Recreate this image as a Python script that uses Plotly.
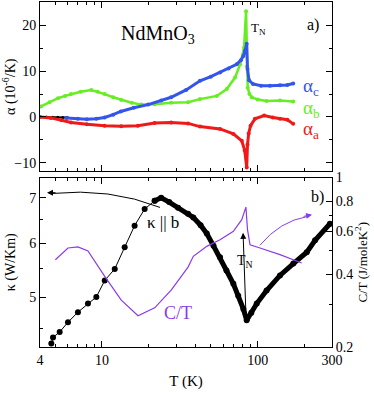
import numpy as np
import plotly.graph_objects as go

# --- top panel: thermal expansion alpha (1e-6/K) ---
black_T = [4.0, 4.4, 4.8, 5.2, 5.6, 6.0]
black_a = [0.0, 0.0, -0.05, -0.05, -0.1, -0.1]

ac_T = [5.9, 7.0, 8.0, 9.2, 10.4, 11.8, 13.2, 16.0, 19.8, 24.0, 27.8, 34.7, 42.6, 50.0,
        57.3, 65.0, 73.3, 78.0, 80.9, 83.0, 85.0, 86.0, 88.0, 93.3, 105, 120, 139, 155, 169]
ac = [-0.2, -0.4, -0.5, -0.4, -0.1, 0.5, 1.2, 2.0, 2.7, 3.6, 4.3, 5.9, 7.9, 8.8,
      9.7, 10.6, 11.5, 12.4, 13.3, 14.5, 16.0, 10.5, 8.0, 7.2, 6.8, 6.8, 6.9, 7.0, 7.3]

ab_T = [4.06, 4.6, 5.22, 5.8, 6.33, 7.3, 8.54, 9.4, 10.4, 11.8, 13.3, 15.5, 17.9, 21.8,
        27.8, 35.7, 42.6, 54.6, 63.3, 71.5, 77.1, 81.7, 84.2, 85.2, 86.3, 88.5, 91.6,
        100, 114, 139, 169]
ab = [2.3, 3.2, 4.1, 4.6, 5.0, 5.5, 5.9, 5.5, 5.0, 4.3, 3.7, 3.1, 2.7, 2.8,
      3.1, 3.2, 3.9, 4.6, 6.1, 8.6, 11.5, 15.1, 23.1, 11.0, 6.4, 5.0, 4.3,
      3.8, 3.5, 3.6, 3.4]

aa_T = [4.0, 4.7, 5.5, 6.33, 8.0, 10.4, 13.3, 17.0, 21.8, 27.8, 35.7, 42.6, 57.3,
        69.8, 79.0, 82.5, 85.0, 86.0, 87.5, 90.0, 96.0, 110, 125, 139, 155, 169]
aa = [0.0, -0.2, -0.7, -1.2, -1.6, -1.9, -2.0, -1.9, -1.3, -1.2, -1.4, -2.1, -2.6,
      -3.7, -5.2, -7.3, -11.0, -6.0, -3.6, -1.9, -0.4, 0.3, -0.1, -0.4, -0.6, -1.5]

# --- bottom panel: thermal conductivity kappa || b (W/Km) ---
k_T = [4.73, 4.85, 5.35, 6.05, 7.01, 8.13, 9.2, 10.42, 12.08, 13.99, 16.2, 18.8, 21.8]
k = [4.27, 4.36, 4.44, 4.59, 4.75, 4.89, 5.0, 5.29, 5.5, 5.92, 6.37, 6.74, 6.93]
k_hiT = [21.8, 24.0, 27.0, 30.8, 35.7, 38.6, 43.0, 47.1, 52.0, 57.3, 63.0, 69.8, 75.0,
         80.9, 85.0, 91.0, 98.6, 114, 139, 169.4, 206.6, 233.5, 291]
k_hi = [6.93, 7.0, 6.9, 6.77, 6.63, 6.55, 6.38, 6.2, 5.95, 5.72, 5.47, 5.23, 5.02,
        4.80, 4.62, 4.74, 4.89, 5.11, 5.38, 5.60, 5.82, 6.06, 6.41]

# --- bottom panel: specific heat C/T (J/moleK^2) ---
c_T = [5.02, 6.05, 7.01, 8.13, 10.42, 13.3, 17.04, 21.8, 27.9, 35.7, 38.6, 47.1, 57.3,
       69.8, 79.0, 84.0, 86.0, 89.3, 103.5, 139, 191.8]
c = [0.458, 0.512, 0.517, 0.498, 0.391, 0.312, 0.269, 0.290, 0.344, 0.427, 0.473, 0.520,
     0.554, 0.600, 0.67, 0.755, 0.61, 0.528, 0.512, 0.481, 0.444]

BLUE = "#3355ee"
GREEN = "#66ee22"
RED = "#ee1a1a"
PURPLE = "#8a3be8"
FONT = "Liberation Serif, DejaVu Serif, serif"

fig = go.Figure()

fig.add_trace(go.Scatter(x=black_T, y=black_a, xaxis="x2", yaxis="y", mode="lines+markers",
                         line=dict(color="black", width=2), marker=dict(size=3, color="black")))
fig.add_trace(go.Scatter(x=ab_T, y=ab, xaxis="x2", yaxis="y", mode="lines+markers",
                         line=dict(color=GREEN, width=2.5), marker=dict(size=4, color=GREEN)))
fig.add_trace(go.Scatter(x=ac_T, y=ac, xaxis="x2", yaxis="y", mode="lines+markers",
                         line=dict(color=BLUE, width=3), marker=dict(size=4, color=BLUE)))
fig.add_trace(go.Scatter(x=aa_T, y=aa, xaxis="x2", yaxis="y", mode="lines+markers",
                         line=dict(color=RED, width=3), marker=dict(size=4, color=RED)))

fig.add_trace(go.Scatter(x=c_T, y=c, xaxis="x", yaxis="y3", mode="lines",
                         line=dict(color=PURPLE, width=1.2)))
fig.add_trace(go.Scatter(x=k_T, y=k, xaxis="x", yaxis="y2", mode="lines+markers",
                         line=dict(color="black", width=1), marker=dict(size=6, color="black")))
fig.add_trace(go.Scatter(x=k_hiT, y=k_hi, xaxis="x", yaxis="y2", mode="lines+markers",
                         line=dict(color="black", width=5), marker=dict(size=6, color="black")))

tick_common = dict(ticks="inside", showline=True, linecolor="black", linewidth=1,
                   tickcolor="black", showgrid=False, zeroline=False, automargin=False,
                   tickfont=dict(family=FONT, size=14, color="black"))
xminor = [5, 6, 7, 8, 9, 20, 30, 40, 50, 60, 70, 80, 90, 200]

fig.update_layout(
    width=374, height=393,
    margin=dict(l=40, r=42, t=2, b=46),
    paper_bgcolor="white", plot_bgcolor="white",
    showlegend=False,
    font=dict(family=FONT, color="black"),
    xaxis=dict(type="log", range=[np.log10(4), np.log10(300)], domain=[0, 1], anchor="y2",
               tickvals=[4, 10, 100, 300], ticktext=["4", "10", "100", "300"], ticklen=6,
               minor=dict(tickvals=xminor, ticklen=3, ticks="inside", tickcolor="black"),
               mirror="ticks",
               title=dict(text="T (K)", font=dict(family=FONT, size=15), standoff=8),
               **tick_common),
    xaxis2=dict(type="log", range=[np.log10(4), np.log10(300)], domain=[0, 1], anchor="y",
                matches="x", tickvals=[4, 10, 100, 300], showticklabels=False, ticklen=6,
                minor=dict(tickvals=xminor, ticklen=3, ticks="inside", tickcolor="black"),
                mirror="ticks", **tick_common),
    yaxis=dict(domain=[0.5087, 1], range=[-11.9, 25.1], anchor="x2",
               tickvals=[-10, 0, 10, 20], ticklen=6,
               minor=dict(tickvals=[-5, 5, 15], ticklen=3, ticks="inside", tickcolor="black"),
               mirror="ticks",
               title=dict(text="α (10<sup>-6</sup>/K)", font=dict(family=FONT, size=14), standoff=2),
               **tick_common),
    yaxis2=dict(domain=[0, 0.4913], type="log", range=[np.log10(4.22), np.log10(7.5)],
                anchor="x", tickvals=[5, 6, 7], ticklen=6,
                minor=dict(tickvals=[4.5, 5.5, 6.5], ticklen=3, ticks="inside", tickcolor="black"),
                title=dict(text="κ (W/Km)", font=dict(family=FONT, size=14), standoff=10),
                **tick_common),
    yaxis3=dict(overlaying="y2", side="right", type="log", range=[np.log10(0.2), 0],
                anchor="x", tickvals=[0.2, 0.4, 0.6, 0.8, 1], ticktext=["0.2", "0.4", "0.6", "0.8", "1"],
                ticklen=6,
                minor=dict(tickvals=[0.3, 0.5, 0.7], ticklen=3, ticks="inside", tickcolor="black"),
                title=dict(text="C/T (J/moleK<sup>2</sup>)", font=dict(family=FONT, size=13), standoff=2),
                **tick_common),
)

# labels are tied to the axes: top panel uses (x2, y), bottom panel (x, y3);
# x positions are log10(T), bottom y positions are log10(C/T)
def top_label(text, lx, y, size=15, color="black"):
    fig.add_annotation(text=text, x=lx, y=y, xref="x2", yref="y", showarrow=False,
                       font=dict(family=FONT, size=size, color=color))

def bot_label(text, lx, ly, size=15, color="black"):
    fig.add_annotation(text=text, x=lx, y=ly, xref="x", yref="y3", showarrow=False,
                       font=dict(family=FONT, size=size, color=color))

top_label("NdMnO<sub>3</sub>", 1.36, 18.1, size=20)
top_label("a)", 2.355, 20.1, size=16)
top_label("T<sub>N</sub>", 2.002, 19.4, size=13)
top_label("α<sub>c</sub>", 2.343, 6.6, size=19, color=BLUE)
top_label("α<sub>b</sub>", 2.343, 1.8, size=19, color=GREEN)
top_label("α<sub>a</sub>", 2.343, -2.8, size=19, color=RED)

bot_label("b)", 2.387, -0.079, size=16)
bot_label("κ || b", 1.392, -0.186, size=17)
bot_label("C/T", 1.488, -0.5575, size=18, color=PURPLE)
bot_label("T<sub>N</sub>", 1.919, -0.347, size=14)

# curved black arrow towards the left axis
fig.add_shape(type="path", xref="paper", yref="paper",
              path="M 0.411 0.4046 Q 0.24 0.462 0.04 0.445",
              line=dict(color="black", width=1))
fig.add_annotation(x=0.647, y=-0.0627, xref="x", yref="y3", text="", showarrow=True,
                   ax=10, ay=0, arrowhead=2, arrowsize=1.2, arrowwidth=1, arrowcolor="black")

# curved purple arrow towards the right axis
fig.add_shape(type="path", xref="paper", yref="paper",
              path="M 0.753 0.2948 Q 0.822 0.365 0.915 0.378",
              line=dict(color=PURPLE, width=1))
fig.add_annotation(x=2.349, y=-0.1534, xref="x", yref="y3", text="", showarrow=True,
                   ax=-10, ay=2, arrowhead=2, arrowsize=1.2, arrowwidth=1, arrowcolor=PURPLE)

# T_N arrow from the kappa minimum up to the C/T peak
fig.add_annotation(x=1.906, y=-0.228, xref="x", yref="y3", text="", showarrow=True,
                   ax=3, ay=85, arrowhead=2, arrowsize=1.2, arrowwidth=1, arrowcolor="black")

fig.write_html("out.html", config={"displayModeBar": False},
               post_script="document.body.style.margin='0';")
